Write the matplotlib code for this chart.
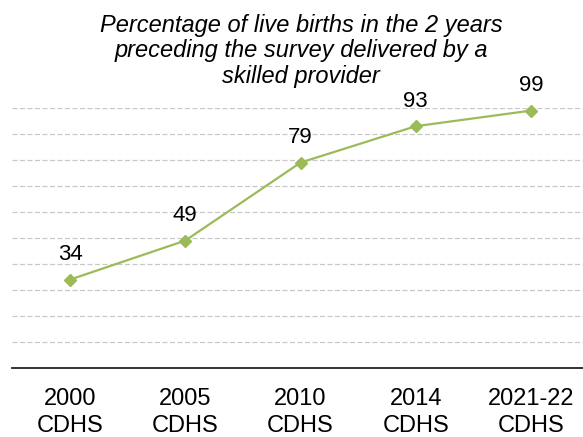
import matplotlib
matplotlib.use("Agg")
import matplotlib.pyplot as plt

categories = ["2000\nCDHS", "2005\nCDHS", "2010\nCDHS", "2014\nCDHS", "2021-22\nCDHS"]
values = [34, 49, 79, 93, 99]
title = "Percentage of live births in the 2 years\npreceding the survey delivered by a\nskilled provider"

plt.rcParams['font.family'] = ['Liberation Sans', 'DejaVu Sans']

fig = plt.figure(figsize=(5.83, 4.37), dpi=100)
W, H = 583, 437
left, right = 12.4, 588.6
top, bottom = 108, 368
ax = fig.add_axes([left / W, (H - bottom) / H, (right - left) / W, (bottom - top) / H])

x = list(range(len(categories)))
ax.plot(x, values, color="#9BBB59", linewidth=1.6, marker="D", markersize=6,
        markerfacecolor="#9BBB59", markeredgecolor="#9BBB59", zorder=3, clip_on=False)
for xi, v in zip(x, values):
    ax.annotate(str(v), (xi, v), xytext=(0, 18), textcoords="offset points",
                ha="center", va="center", fontsize=16, color="black")

ax.set_xlim(-0.5, len(categories) - 0.5)
ax.set_ylim(0, 100)
ax.set_yticks(range(10, 101, 10))
ax.yaxis.grid(True, color="#C8C8C8", linestyle=(0, (4, 2)), linewidth=0.9)
ax.set_axisbelow(True)
ax.tick_params(axis="y", left=False, labelleft=False)
ax.tick_params(axis="x", length=0, pad=14.5, labelsize=17)
ax.set_xticks(x)
ax.set_xticklabels(categories, linespacing=1.3)
for s in ["top", "right", "left"]:
    ax.spines[s].set_visible(False)
ax.spines["bottom"].set_color("#222222")
ax.spines["bottom"].set_linewidth(1.3)

fig.text(301 / W, 1 - 51 / H, title, ha="center", va="center", fontsize=17,
         style="italic", linespacing=1.15)

fig.savefig("out.png", dpi=100)
